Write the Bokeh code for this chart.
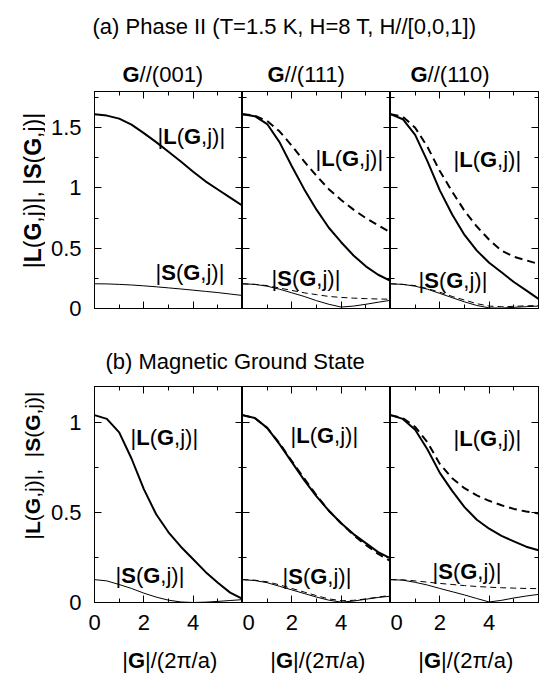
import math
from bokeh.plotting import figure
from bokeh.models import Range1d, LinearAxis, FixedTicker, Label
from bokeh.layouts import column, row
from bokeh.embed import file_html
from bokeh.resources import INLINE

FONT = "Liberation Sans"
FS = 22

# ---------------- data ----------------
G = [0, 0.5, 1, 1.5, 2, 2.5, 3, 3.5, 4, 4.5, 5, 5.5, 6]

# (a) Phase II
La_001 = [1.612, 1.60, 1.575, 1.525, 1.455, 1.38, 1.30, 1.22, 1.135, 1.055, 0.987, 0.92, 0.852]
Sa_001 = [0.205, 0.204, 0.200, 0.195, 0.188, 0.180, 0.171, 0.162, 0.152, 0.142, 0.132, 0.120, 0.108]

La_111 = [1.612, 1.595, 1.53, 1.38, 1.18, 0.99, 0.82, 0.67, 0.55, 0.44, 0.35, 0.28, 0.23]
La_111d = [1.612, 1.60, 1.555, 1.47, 1.35, 1.22, 1.10, 0.99, 0.90, 0.82, 0.75, 0.69, 0.63]
Sa_111 = [0.205, 0.20, 0.185, 0.16, 0.13, 0.10, 0.065, 0.035, 0.012, 0.02, 0.035, 0.052, 0.068]
Sa_111d = [0.205, 0.20, 0.19, 0.17, 0.15, 0.13, 0.115, 0.10, 0.092, 0.086, 0.082, 0.079, 0.077]

La_110 = [1.612, 1.57, 1.44, 1.22, 0.98, 0.78, 0.61, 0.48, 0.38, 0.30, 0.22, 0.15, 0.08]
La_110d = [1.612, 1.59, 1.50, 1.34, 1.14, 0.97, 0.81, 0.68, 0.57, 0.48, 0.43, 0.40, 0.37]
Sa_110 = [0.205, 0.20, 0.185, 0.16, 0.125, 0.09, 0.055, 0.025, 0.005, 0.003, 0.01, 0.015, 0.02]
Sa_110d = [0.205, 0.20, 0.19, 0.165, 0.135, 0.10, 0.07, 0.04, 0.02, 0.015, 0.018, 0.022, 0.025]

# (b) Magnetic ground state
Lb_001 = [1.041, 1.02, 0.945, 0.80, 0.63, 0.49, 0.39, 0.31, 0.24, 0.17, 0.11, 0.055, 0.02]
Sb_001 = [0.127, 0.12, 0.10, 0.078, 0.052, 0.03, 0.013, 0.003, 0.0, 0.002, 0.006, 0.011, 0.016]

Lb_111 = [1.041, 1.025, 0.97, 0.88, 0.78, 0.68, 0.59, 0.51, 0.44, 0.38, 0.33, 0.28, 0.245]
Lb_111d = [1.041, 1.025, 0.97, 0.885, 0.785, 0.69, 0.595, 0.51, 0.44, 0.375, 0.32, 0.27, 0.23]
Sb_111 = [0.127, 0.122, 0.11, 0.09, 0.07, 0.05, 0.03, 0.013, 0.002, 0.008, 0.018, 0.028, 0.035]
Sb_111d = [0.127, 0.124, 0.115, 0.098, 0.078, 0.058, 0.038, 0.02, 0.01, 0.012, 0.02, 0.03, 0.04]

Lb_110 = [1.041, 1.02, 0.96, 0.85, 0.72, 0.62, 0.53, 0.46, 0.41, 0.37, 0.34, 0.31, 0.29]
Lb_110d = [1.041, 1.025, 0.975, 0.89, 0.77, 0.69, 0.635, 0.595, 0.565, 0.54, 0.52, 0.505, 0.495]
Sb_110 = [0.127, 0.124, 0.112, 0.097, 0.078, 0.06, 0.042, 0.022, 0.003, 0.012, 0.025, 0.036, 0.045]
Sb_110d = [0.127, 0.126, 0.12, 0.113, 0.106, 0.10, 0.094, 0.089, 0.085, 0.082, 0.08, 0.078, 0.077]

XTICKS = [0, 2, 4]
XMINOR = [1, 3, 5]
YTICKS_A = [0, 0.5, 1, 1.5]
YMINOR_A = [0.25, 0.75, 1.25, 1.75]
YTICKS_B = [0, 0.5, 1]
YMINOR_B = [0.25, 0.75]
YLAB_A = {0: "0", 0.5: "0.5", 1: "1", 1.5: "1.5"}
YLAB_B = {0: "0", 0.5: "0.5", 1: "1"}
XLAB = {0: "0", 2: "2", 4: "4"}

COLS = ["(001)", "(111)", "(110)"]

# Arial / Liberation Sans advance widths (em)
REG = {'|': 0.260, '(': 0.333, ')': 0.333, ',': 0.278, 'j': 0.222, '/': 0.278,
       '2': 0.556, 'π': 0.578, 'a': 0.556, ' ': 0.278, '0': 0.556, '1': 0.556}
BOLD = {'L': 0.611, 'G': 0.778, 'S': 0.667}


def wid(t, b, size):
    tab = BOLD if b else REG
    return sum(tab.get(c, 0.556) for c in t) * size


def rich(p, pieces, x, y, size=FS, angle=0.0, center=False):
    total = sum(wid(t, b, size) for t, b in pieces)
    pos = (x if angle == 0 else y) - (total / 2 if center else 0)
    for t, b in pieces:
        if angle == 0:
            xx, yy = pos, y
        else:
            xx, yy = x, pos
        p.add_layout(Label(x=xx, y=yy, x_units="screen", y_units="screen", text=t,
                           angle=angle, text_font=FONT, text_font_size=f"{size}px",
                           text_font_style="bold" if b else "normal",
                           text_color="black", text_align="left",
                           text_baseline="alphabetic"))
        pos += wid(t, b, size)


def LGJ(sym):
    return [("|", 0), (sym, 1), ("(", 0), ("G", 1), (",j)|", 0)]


def style_axis(ax, labels=None, standoff=0):
    ax.axis_line_color = "black"
    ax.axis_line_width = 1
    ax.major_tick_in = 7
    ax.major_tick_out = 0
    ax.minor_tick_in = 4
    ax.minor_tick_out = 0
    ax.major_tick_line_color = "black"
    ax.minor_tick_line_color = "black"
    if labels is None:
        ax.major_label_text_color = None
        ax.major_label_standoff = 0
    else:
        ax.major_label_overrides = labels
        ax.major_label_text_font = FONT
        ax.major_label_text_font_size = f"{FS}px"
        ax.major_label_text_color = "black"
        ax.major_label_standoff = standoff


def blank(w, h):
    f = figure(width=w, height=h, x_range=Range1d(0, 1), y_range=Range1d(0, 1),
               toolbar_location=None, output_backend="svg",
               x_axis_location=None, y_axis_location=None, min_border=0)
    f.grid.visible = False
    f.outline_line_color = None
    return f


def panel(ci, ymax, yt, ym, ylabels, xlabels, height, bt, bb):
    bl = 49 if ci == 0 else 0
    br = 2 if ci == 2 else 0
    w = 148 + bl + br
    p = figure(width=w, height=height, x_range=Range1d(0, 6), y_range=Range1d(0, ymax),
               toolbar_location=None, output_backend="svg",
               x_axis_location=None, y_axis_location=None,
               min_border_left=bl, min_border_right=br,
               min_border_top=bt, min_border_bottom=bb)
    p.grid.visible = False
    p.outline_line_color = "black"
    for loc in ["below", "above"]:
        ax = LinearAxis(ticker=FixedTicker(ticks=XTICKS, minor_ticks=XMINOR))
        style_axis(ax, xlabels if (loc == "below" and xlabels) else None, 12)
        p.add_layout(ax, loc)
    for loc in ["left", "right"]:
        ax = LinearAxis(ticker=FixedTicker(ticks=yt, minor_ticks=ym))
        style_axis(ax, ylabels if (loc == "left" and ci == 0) else None, 13)
        p.add_layout(ax, loc)
    return p


def curves(p, L, S, Ld=None, Sd=None):
    if Ld is not None:
        p.line(G, Ld, line_color="black", line_width=2, line_dash="8 5")
    if Sd is not None:
        p.line(G, Sd, line_color="black", line_width=1, line_dash="6 4")
    p.line(G, L, line_color="black", line_width=2)
    p.line(G, S, line_color="black", line_width=1)


def plain(f, text, x, y):
    f.add_layout(Label(x=x, y=y, x_units="screen", y_units="screen", text=text,
                       text_font=FONT, text_font_size=f"{FS}px", text_color="black",
                       text_align="left", text_baseline="alphabetic"))


# ---------------- header (a) with column titles ----------------
ha = blank(540, 89)
plain(ha, "(a) Phase II (T=1.5 K, H=8 T, H//[0,0,1])", 92, 63)
for cx, name in zip([122, 267, 410], COLS):
    rich(ha, [("G", 1), ("//" + name, 0)], cx, 15)

# ---------------- top row ----------------
ya = blank(45, 233)
rich(ya, LGJ("L") + [(", ", 0)] + LGJ("S"), 32, 118, size=23, angle=math.pi / 2, center=True)
top = [ya]
dataA = [(La_001, Sa_001, None, None), (La_111, Sa_111, La_111d, Sa_111d),
         (La_110, Sa_110, La_110d, Sa_110d)]
txtA = [((63, 172), (61, 36)), ((73, 150), (29, 30)), ((63, 149), (28, 28))]
for ci in range(3):
    p = panel(ci, 1.8, YTICKS_A, YMINOR_A, YLAB_A, None, 233, 2, 14)
    L, S, Ld, Sd = dataA[ci]
    curves(p, L, S, Ld, Sd)
    (lx, ly), (sx, sy) = txtA[ci]
    rich(p, LGJ("L"), lx, ly)
    rich(p, LGJ("S"), sx, sy)
    top.append(p)

# ---------------- header (b) ----------------
hb = blank(540, 54)
plain(hb, "(b) Magnetic Ground State", 105, 15)

# ---------------- bottom row ----------------
yb = blank(45, 264)
rich(yb, LGJ("L") + [(" , ", 0)] + LGJ("S"), 32, 137, size=21, angle=math.pi / 2, center=True)
bot = [yb]
dataB = [(Lb_001, Sb_001, None, None), (Lb_111, Sb_111, Lb_111d, Sb_111d),
         (Lb_110, Sb_110, Lb_110d, Sb_110d)]
txtB = [((36, 165), (21, 27)), ((48, 167), (40, 26)), ((63, 164), (42, 31))]
for ci in range(3):
    p = panel(ci, 1.2, YTICKS_B, YMINOR_B, YLAB_B, XLAB, 264, 10, 38)
    L, S, Ld, Sd = dataB[ci]
    curves(p, L, S, Ld, Sd)
    (lx, ly), (sx, sy) = txtB[ci]
    rich(p, LGJ("L"), lx, ly)
    rich(p, LGJ("S"), sx, sy)
    bot.append(p)

# ---------------- footer: x axis titles ----------------
ft = blank(540, 33)
for cx in [168, 316, 464]:
    rich(ft, [("|", 0), ("G", 1), ("|/(2π/a)", 0)], cx, 13, center=True)

layout = column(ha, row(*top, spacing=0), hb, row(*bot, spacing=0), ft, spacing=0)
open("out.html", "w").write(file_html(layout, INLINE))
